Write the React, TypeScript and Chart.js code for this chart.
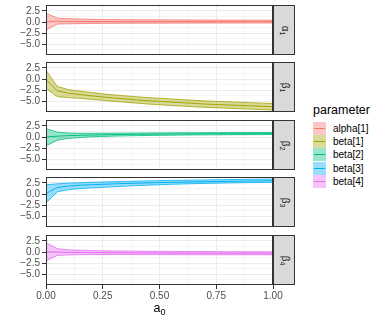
import React, { useEffect, useRef } from "react";
import { Chart, registerables } from "chart.js";
Chart.register(...registerables);

const xs = [0, 0.05, 0.1, 0.15, 0.2, 0.25, 0.3, 0.35, 0.4, 0.45, 0.5, 0.55, 0.6, 0.65, 0.7, 0.75, 0.8, 0.85, 0.9, 0.95, 1];

const parameters = ["alpha[1]", "beta[1]", "beta[2]", "beta[3]", "beta[4]"];
const stripGreek = ["α", "β", "β", "β", "β"];
const stripSub = ["1", "1", "2", "3", "4"];
const colors = ["#F8766D", "#A3A500", "#00BF7D", "#00B0F6", "#E76BF3"];

const alpha1Mean = [0.15, 0.2, 0.15, 0.12, 0.12, 0.11, 0.11, 0.1, 0.1, 0.1, 0.1, 0.1, 0.1, 0.1, 0.1, 0.1, 0.1, 0.1, 0.1, 0.1, 0.1];
const alpha1Upper = [2.0, 0.9, 0.75, 0.67, 0.62, 0.58, 0.55, 0.53, 0.51, 0.5, 0.49, 0.48, 0.47, 0.46, 0.45, 0.45, 0.44, 0.44, 0.43, 0.43, 0.42];
const alpha1Lower = [-1.8, -0.45, -0.4, -0.35, -0.32, -0.3, -0.29, -0.28, -0.27, -0.26, -0.25, -0.25, -0.24, -0.24, -0.23, -0.23, -0.23, -0.22, -0.22, -0.22, -0.22];

const beta1Mean = [-0.1, -2.7, -3.2, -3.5, -3.8, -4.05, -4.3, -4.5, -4.7, -4.9, -5.05, -5.2, -5.35, -5.5, -5.65, -5.75, -5.85, -5.95, -6.05, -6.15, -6.25];
const beta1Upper = [2.0, -1.7, -2.4, -2.75, -3.05, -3.35, -3.6, -3.8, -4.0, -4.2, -4.35, -4.5, -4.65, -4.8, -4.95, -5.05, -5.15, -5.25, -5.35, -5.45, -5.55];
const beta1Lower = [-2.1, -4.0, -4.2, -4.35, -4.6, -4.8, -5.05, -5.25, -5.45, -5.65, -5.8, -5.95, -6.1, -6.25, -6.4, -6.5, -6.6, -6.7, -6.8, -6.9, -7.0];

const beta2Mean = [0.0, 0.2, 0.32, 0.4, 0.46, 0.51, 0.55, 0.58, 0.61, 0.64, 0.66, 0.68, 0.7, 0.71, 0.73, 0.74, 0.75, 0.76, 0.77, 0.78, 0.79];
const beta2Upper = [1.9, 1.1, 0.9, 0.85, 0.85, 0.86, 0.88, 0.9, 0.91, 0.93, 0.94, 0.95, 0.96, 0.97, 0.98, 0.99, 1.0, 1.0, 1.01, 1.02, 1.02];
const beta2Lower = [-2.0, -0.7, -0.3, -0.1, 0.04, 0.14, 0.21, 0.27, 0.32, 0.36, 0.39, 0.42, 0.45, 0.47, 0.49, 0.51, 0.52, 0.53, 0.54, 0.55, 0.56];

const beta3Mean = [0.1, 1.5, 1.8, 2.0, 2.1, 2.2, 2.3, 2.38, 2.45, 2.52, 2.58, 2.64, 2.69, 2.74, 2.79, 2.83, 2.87, 2.9, 2.94, 2.97, 3.0];
const beta3Upper = [2.1, 2.3, 2.45, 2.55, 2.65, 2.72, 2.8, 2.86, 2.92, 2.97, 3.02, 3.07, 3.11, 3.15, 3.19, 3.23, 3.26, 3.3, 3.33, 3.36, 3.4];
const beta3Lower = [-2.0, 0.5, 1.0, 1.25, 1.4, 1.52, 1.65, 1.78, 1.9, 2.0, 2.1, 2.2, 2.27, 2.34, 2.4, 2.45, 2.5, 2.54, 2.58, 2.62, 2.65];

const beta4Mean = [0.05, 0.0, -0.07, -0.1, -0.13, -0.15, -0.17, -0.18, -0.2, -0.21, -0.22, -0.23, -0.24, -0.25, -0.25, -0.26, -0.26, -0.27, -0.27, -0.28, -0.28];
const beta4Upper = [2.1, 0.75, 0.5, 0.4, 0.33, 0.28, 0.24, 0.21, 0.19, 0.17, 0.15, 0.14, 0.12, 0.11, 0.1, 0.09, 0.08, 0.07, 0.06, 0.06, 0.05];
const beta4Lower = [-2.0, -0.75, -0.65, -0.6, -0.58, -0.57, -0.57, -0.57, -0.58, -0.58, -0.59, -0.59, -0.6, -0.6, -0.6, -0.61, -0.61, -0.61, -0.62, -0.62, -0.62];

const means = [alpha1Mean, beta1Mean, beta2Mean, beta3Mean, beta4Mean];
const uppers = [alpha1Upper, beta1Upper, beta2Upper, beta3Upper, beta4Upper];
const lowers = [alpha1Lower, beta1Lower, beta2Lower, beta3Lower, beta4Lower];

const yMin = -7.45;
const yMax = 3.85;
const yTickValues = [-6.25, -5, -3.75, -2.5, -1.25, 0, 1.25, 2.5];
const yMajorValues = [-5, -2.5, 0, 2.5];
const yMajorLabels = ["\u22125.0", "\u22122.5", "0.0", "2.5"];
const xTickValues = [0, 0.125, 0.25, 0.375, 0.5, 0.625, 0.75, 0.875, 1];
const xMajorValues = [0, 0.25, 0.5, 0.75, 1];
const xMajorLabels = ["0.00", "0.25", "0.50", "0.75", "1.00"];

const FONT = "'Liberation Sans', Arial, Helvetica, sans-serif";
const PANEL_LEFT = 46;
const PANEL_RIGHT = 273;
const PANEL_H = 50;
const panelTops = [5, 62, 120, 177, 235];
const STRIP_W = 22;
const X_AXIS_H = 18;
const CANVAS_W = 300;

function rgba(hex: string, a: number) {
  const n = parseInt(hex.slice(1), 16);
  return `rgba(${(n >> 16) & 255},${(n >> 8) & 255},${n & 255},${a})`;
}

const isIn = (arr: number[], v: number) => arr.some((m) => Math.abs(m - v) < 1e-9);

const borderPlugin = {
  id: "panelBorder",
  afterDatasetsDraw(chart: any) {
    const { ctx, chartArea } = chart;
    ctx.save();
    ctx.strokeStyle = "#333333";
    ctx.lineWidth = 1;
    ctx.strokeRect(
      Math.round(chartArea.left) + 0.5,
      Math.round(chartArea.top) + 0.5,
      Math.round(chartArea.right - chartArea.left) - 1,
      Math.round(chartArea.bottom - chartArea.top) - 1
    );
    ctx.restore();
  },
};

function Panel({ index }: { index: number }) {
  const ref = useRef<HTMLCanvasElement | null>(null);
  const isLast = index === parameters.length - 1;
  const top = panelTops[index] - 1;
  const height = PANEL_H + 2 + (isLast ? X_AXIS_H - 1 : 0);
  const width = CANVAS_W;

  useEffect(() => {
    const color = colors[index];
    const pts = (arr: number[]) => arr.map((y, i) => ({ x: xs[i], y }));
    const chart = new Chart(ref.current as HTMLCanvasElement, {
      type: "line",
      data: {
        datasets: [
          {
            label: parameters[index] + " lower",
            data: pts(lowers[index]),
            borderColor: color,
            borderWidth: 0.8,
            pointRadius: 0,
            fill: false,
            tension: 0,
          },
          {
            label: parameters[index] + " upper",
            data: pts(uppers[index]),
            borderColor: color,
            borderWidth: 0.8,
            backgroundColor: rgba(color, 0.4),
            pointRadius: 0,
            fill: "-1",
            tension: 0,
          },
          {
            label: parameters[index],
            data: pts(means[index]),
            borderColor: color,
            borderWidth: 1,
            pointRadius: 0,
            fill: false,
            tension: 0,
          },
        ],
      },
      options: {
        responsive: false,
        maintainAspectRatio: false,
        animation: false,
        events: [],
        layout: { padding: { left: 0, right: CANVAS_W - PANEL_RIGHT, top: 1, bottom: isLast ? 0 : 1 } },
        plugins: { legend: { display: false }, tooltip: { enabled: false } },
        scales: {
          x: {
            type: "linear",
            min: 0,
            max: 1,
            afterBuildTicks: (scale: any) => {
              scale.ticks = xTickValues.map((v) => ({ value: v }));
            },
            afterFit: (scale: any) => {
              scale.height = isLast ? X_AXIS_H : 0;
              scale.paddingLeft = 0;
              scale.paddingRight = 0;
              scale.paddingTop = 0;
              scale.paddingBottom = 0;
            },
            ticks: {
              display: isLast,
              autoSkip: false,
              maxRotation: 0,
              padding: 1,
              color: "#4D4D4D",
              font: { family: FONT, size: 10 },
              callback: (v: any) => {
                const i = xMajorValues.findIndex((m) => Math.abs(m - v) < 1e-9);
                return i >= 0 ? xMajorLabels[i] : "";
              },
            },
            grid: {
              color: "#EBEBEB",
              lineWidth: (ctx: any) => (ctx.tick && isIn(xMajorValues, ctx.tick.value) ? 1 : 0.5),
              drawTicks: isLast,
              tickLength: 4,
              tickColor: (ctx: any) => (ctx.tick && isIn(xMajorValues, ctx.tick.value) ? "#333333" : "rgba(0,0,0,0)"),
              tickWidth: 1,
            },
            border: { display: false },
          },
          y: {
            type: "linear",
            min: yMin,
            max: yMax,
            afterBuildTicks: (scale: any) => {
              scale.ticks = yTickValues.map((v) => ({ value: v }));
            },
            afterFit: (scale: any) => {
              scale.width = PANEL_LEFT;
              scale.paddingLeft = 0;
              scale.paddingRight = 0;
              scale.paddingTop = 0;
              scale.paddingBottom = 0;
            },
            ticks: {
              autoSkip: false,
              padding: 2,
              color: "#4D4D4D",
              font: { family: FONT, size: 10 },
              callback: (v: any) => {
                const i = yMajorValues.findIndex((m) => Math.abs(m - v) < 1e-9);
                return i >= 0 ? yMajorLabels[i] : "";
              },
            },
            grid: {
              color: "#EBEBEB",
              lineWidth: (ctx: any) => (ctx.tick && isIn(yMajorValues, ctx.tick.value) ? 1 : 0.5),
              tickLength: 4,
              tickColor: (ctx: any) => (ctx.tick && isIn(yMajorValues, ctx.tick.value) ? "#333333" : "rgba(0,0,0,0)"),
              tickWidth: 1,
            },
            border: { display: false },
          },
        },
      } as any,
      plugins: [borderPlugin],
    });
    return () => chart.destroy();
  }, [index]);

  return (
    <>
      <canvas
        ref={ref}
        width={width}
        height={height}
        style={{ position: "absolute", left: 0, top, width, height }}
      />
      <div
        style={{
          position: "absolute",
          left: PANEL_RIGHT,
          top: panelTops[index],
          width: STRIP_W,
          height: PANEL_H,
          boxSizing: "border-box",
          background: "#D9D9D9",
          border: "1px solid #333333",
          display: "flex",
          alignItems: "center",
          justifyContent: "center",
        }}
      >
        <div
          style={{
            transform: "rotate(90deg)",
            color: "#1A1A1A",
            fontFamily: FONT,
            fontSize: 10,
            whiteSpace: "nowrap",
            lineHeight: "10px",
          }}
        >
          {stripGreek[index]}
          <sub style={{ fontSize: 7, verticalAlign: "-2px" }}>{stripSub[index]}</sub>
        </div>
      </div>
    </>
  );
}

export default function App() {
  return (
    <div
      style={{
        position: "fixed",
        left: 0,
        top: 0,
        width: 382,
        height: 322,
        background: "#FFFFFF",
        overflow: "hidden",
        fontFamily: FONT,
      }}
    >
      {parameters.map((_, i) => (
        <Panel key={i} index={i} />
      ))}
      <div
        style={{
          position: "absolute",
          left: PANEL_LEFT,
          width: PANEL_RIGHT - PANEL_LEFT,
          top: 301,
          textAlign: "center",
          fontSize: 12.5,
          color: "#000000",
          lineHeight: "14px",
        }}
      >
        a<sub style={{ fontSize: 9, verticalAlign: "-3px" }}>0</sub>
      </div>
      <div
        style={{
          position: "absolute",
          left: 313,
          top: 103,
          fontSize: 12.5,
          lineHeight: "14px",
          color: "#000000",
        }}
      >
        parameter
      </div>
      {parameters.map((p, i) => (
        <React.Fragment key={p}>
          <div
            style={{
              position: "absolute",
              left: 313,
              top: 122 + i * 13.2,
              width: 13,
              height: 13,
              background: rgba(colors[i], 0.4),
            }}
          >
            <div
              style={{
                position: "absolute",
                left: 1,
                right: 1,
                top: 6,
                height: 1,
                background: colors[i],
              }}
            />
          </div>
          <div
            style={{
              position: "absolute",
              left: 333,
              top: 122 + i * 13.2,
              height: 13,
              lineHeight: "13px",
              fontSize: 10,
              color: "#000000",
              whiteSpace: "nowrap",
            }}
          >
            {p}
          </div>
        </React.Fragment>
      ))}
    </div>
  );
}
